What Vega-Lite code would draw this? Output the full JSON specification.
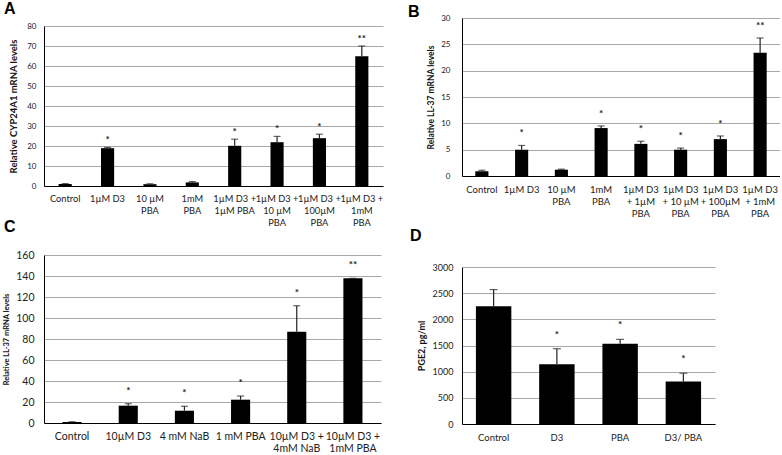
{
  "$schema": "https://vega.github.io/schema/vega-lite/v6.json",
  "background": "white",
  "padding": {"left": 2, "top": 0, "right": 0, "bottom": 0},
  "datasets": {
    "A": [
      {"cat": "Control", "value": 1, "err": 1.2, "sig": ""},
      {"cat": "1µM D3", "value": 18.9, "err": 19.3, "sig": "*"},
      {"cat": "10 µM|PBA", "value": 0.9, "err": 1.1, "sig": ""},
      {"cat": "1mM|PBA", "value": 1.8, "err": 2.2, "sig": ""},
      {"cat": "1µM D3 +|1µM PBA", "value": 20.1, "err": 23.4, "sig": "*"},
      {"cat": "1µM D3 +|10 µM|PBA", "value": 21.9, "err": 24.8, "sig": "*"},
      {"cat": "1µM D3 +|100µM|PBA", "value": 23.9, "err": 25.9, "sig": "*"},
      {"cat": "1µM D3 +|1mM|PBA", "value": 64.9, "err": 70, "sig": "**"}
    ],
    "B": [
      {"cat": "Control", "value": 0.9, "err": 1.1, "sig": ""},
      {"cat": "1µM D3", "value": 5.0, "err": 5.8, "sig": "*"},
      {"cat": "10 µM|PBA", "value": 1.2, "err": 1.3, "sig": ""},
      {"cat": "1mM|PBA", "value": 9.1, "err": 9.5, "sig": "*"},
      {"cat": "1µM D3|+ 1µM|PBA", "value": 6.1, "err": 6.6, "sig": "*"},
      {"cat": "1µM D3|+ 10 µM|PBA", "value": 5.0, "err": 5.3, "sig": "*"},
      {"cat": "1µM D3|+ 100µM|PBA", "value": 7.0, "err": 7.6, "sig": "*"},
      {"cat": "1µM D3|+ 1mM|PBA", "value": 23.4, "err": 26.2, "sig": "**"}
    ],
    "C": [
      {"cat": "Control", "value": 1, "err": 1.2, "sig": ""},
      {"cat": "10µM D3", "value": 16.5, "err": 18.4, "sig": "*"},
      {"cat": "4 mM  NaB", "value": 11.7, "err": 15.9, "sig": "*"},
      {"cat": "1 mM  PBA", "value": 22.2, "err": 25.7, "sig": "*"},
      {"cat": "10µM D3 +|4mM  NaB", "value": 87, "err": 111.7, "sig": "*"},
      {"cat": "10µM D3 +|1mM PBA", "value": 137.8, "err": 137.8, "sig": "**"}
    ],
    "D": [
      {"cat": "Control", "value": 2251, "err": 2568, "sig": ""},
      {"cat": "D3", "value": 1141, "err": 1439, "sig": "*"},
      {"cat": "PBA", "value": 1534, "err": 1617, "sig": "*"},
      {"cat": "D3/ PBA", "value": 812, "err": 970, "sig": "*"}
    ]
  },
  "spacing": 25,
  "hconcat": [
    {
      "spacing": -9,
      "vconcat": [
        {
          "width": 339, "height": 5,
          "title": {"text": "A", "anchor": "start", "frame": "group", "dx": -40, "offset": -2},
          "data": {"values": [{}]},
          "mark": {"type": "text", "text": ""},
          "encoding": {}
        },
        {
          "width": 339, "height": 160,
          "data": {"name": "A"},
          "encoding": {
            "x": {"field": "cat", "type": "nominal", "sort": null, "scale": {"paddingInner": 0.69, "paddingOuter": 0.345}, "axis": {"title": null, "labelExpr": "split(datum.label, '|')", "labelFontSize": 9.3}},
            "y": {"field": "value", "type": "quantitative", "title": "Relative CYP24A1 mRNA levels", "scale": {"domain": [0, 80], "nice": false}, "axis": {"values": [0, 10, 20, 30, 40, 50, 60, 70, 80], "labelFontSize": 8, "labelPadding": 8, "titlePadding": 8, "titleFontSize": 9.5}}
          },
          "layer": [
            {"mark": {"type": "bar", "color": "#000"}},
            {"mark": {"type": "rule", "color": "#222", "strokeWidth": 1.2}, "encoding": {"y2": {"field": "err"}}},
            {"mark": {"type": "tick", "color": "#222", "size": 7, "thickness": 1.2}, "encoding": {"y": {"field": "err", "type": "quantitative", "title": "Relative CYP24A1 mRNA levels"}}},
            {"mark": {"type": "text", "fontSize": 10, "fontWeight": "bold", "color": "#222", "baseline": "alphabetic", "dy": -4}, "encoding": {"y": {"field": "err", "type": "quantitative", "title": "Relative CYP24A1 mRNA levels"}, "text": {"field": "sig"}}}
          ]
        },
        {
          "width": 337, "height": 168,
          "title": {"text": "C", "anchor": "start", "frame": "group", "dx": -40, "offset": 15},
          "data": {"name": "C"},
          "encoding": {
            "x": {"field": "cat", "type": "nominal", "sort": null, "scale": {"paddingInner": 0.66, "paddingOuter": 0.33}, "axis": {"title": null, "labelExpr": "split(datum.label, '|')", "labelFontSize": 10.5}},
            "y": {"field": "value", "type": "quantitative", "title": "Relative LL-37 mRNA levels", "scale": {"domain": [0, 160], "nice": false}, "axis": {"values": [0, 20, 40, 60, 80, 100, 120, 140, 160], "labelFontSize": 10.5, "labelPadding": 10, "titlePadding": 5, "titleFontSize": 7.5}}
          },
          "layer": [
            {"mark": {"type": "bar", "color": "#000"}},
            {"mark": {"type": "rule", "color": "#222", "strokeWidth": 1.2}, "encoding": {"y2": {"field": "err"}}},
            {"mark": {"type": "tick", "color": "#222", "size": 7, "thickness": 1.2}, "encoding": {"y": {"field": "err", "type": "quantitative", "title": "Relative LL-37 mRNA levels"}}},
            {"mark": {"type": "text", "fontSize": 10, "fontWeight": "bold", "color": "#222", "baseline": "alphabetic", "dy": -10}, "encoding": {"y": {"field": "err", "type": "quantitative", "title": "Relative LL-37 mRNA levels"}, "text": {"field": "sig"}}}
          ]
        }
      ]
    },
    {
      "spacing": 10,
      "vconcat": [
        {
          "width": 318, "height": 158,
          "title": {"text": "B", "anchor": "start", "frame": "group", "dx": -54, "offset": -6},
          "data": {"name": "B"},
          "encoding": {
            "x": {"field": "cat", "type": "nominal", "sort": null, "scale": {"paddingInner": 0.67, "paddingOuter": 0.335}, "axis": {"title": null, "labelExpr": "split(datum.label, '|')", "labelFontSize": 9.5}},
            "y": {"field": "value", "type": "quantitative", "title": "Relative LL-37 mRNA levels", "scale": {"domain": [0, 30], "nice": false}, "axis": {"values": [0, 5, 10, 15, 20, 25, 30], "labelFontSize": 8, "labelPadding": 12, "titlePadding": 5, "titleFontSize": 8.5}}
          },
          "layer": [
            {"mark": {"type": "bar", "color": "#000"}},
            {"mark": {"type": "rule", "color": "#222", "strokeWidth": 1.2}, "encoding": {"y2": {"field": "err"}}},
            {"mark": {"type": "tick", "color": "#222", "size": 7, "thickness": 1.2}, "encoding": {"y": {"field": "err", "type": "quantitative", "title": "Relative LL-37 mRNA levels"}}},
            {"mark": {"type": "text", "fontSize": 10, "fontWeight": "bold", "color": "#222", "baseline": "alphabetic", "dy": -9}, "encoding": {"y": {"field": "err", "type": "quantitative", "title": "Relative LL-37 mRNA levels"}, "text": {"field": "sig"}}}
          ]
        },
        {
          "width": 253, "height": 157,
          "title": {"text": "D", "anchor": "start", "frame": "group", "dx": -52, "offset": 19},
          "data": {"name": "D"},
          "encoding": {
            "x": {"field": "cat", "type": "nominal", "sort": null, "scale": {"paddingInner": 0.44, "paddingOuter": 0.22}, "axis": {"title": null, "labelFontSize": 9.5}},
            "y": {"field": "value", "type": "quantitative", "title": "PGE2, pg/ml", "scale": {"domain": [0, 3000], "nice": false}, "axis": {"values": [0, 500, 1000, 1500, 2000, 2500, 3000], "format": "d", "labelFontSize": 9, "labelPadding": 9, "titlePadding": 6, "titleFontSize": 9}}
          },
          "layer": [
            {"mark": {"type": "bar", "color": "#000"}},
            {"mark": {"type": "rule", "color": "#222", "strokeWidth": 1.2}, "encoding": {"y2": {"field": "err"}}},
            {"mark": {"type": "tick", "color": "#222", "size": 8, "thickness": 1.2}, "encoding": {"y": {"field": "err", "type": "quantitative", "title": "PGE2, pg/ml"}}},
            {"mark": {"type": "text", "fontSize": 10, "fontWeight": "bold", "color": "#222", "baseline": "alphabetic", "dy": -11}, "encoding": {"y": {"field": "err", "type": "quantitative", "title": "PGE2, pg/ml"}, "text": {"field": "sig"}}}
          ]
        }
      ]
    }
  ],
  "config": {
    "view": {"stroke": null},
    "font": "Lato",
    "axis": {"labelFont": "Lato", "titleFont": "Lato", "labelColor": "#222", "titleColor": "#111", "titleFontWeight": "bold", "domainColor": "#000", "domainWidth": 1, "ticks": false, "gridColor": "#a8a8a8", "gridWidth": 1},
    "axisX": {"grid": false, "labelAngle": 0, "labelPadding": 8, "labelLineHeight": 12, "labelOverlap": false, "labelLimit": 200},
    "axisY": {"grid": true},
    "title": {"font": "Liberation Sans", "fontSize": 16, "fontWeight": "bold", "color": "#000"}
  }
}
